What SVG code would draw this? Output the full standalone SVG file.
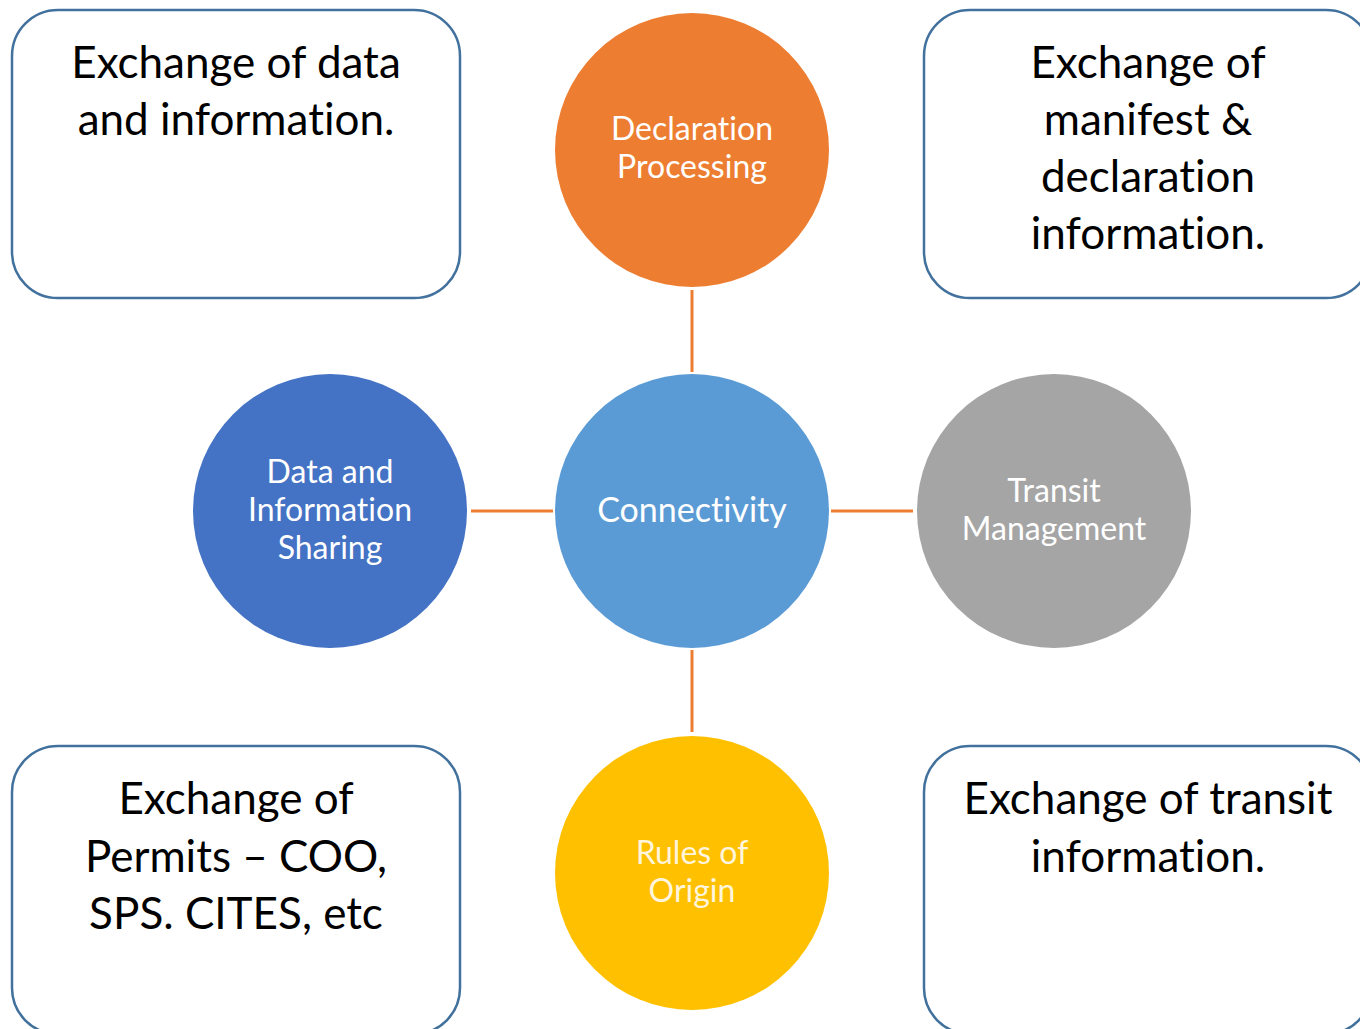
<svg xmlns="http://www.w3.org/2000/svg" width="1360" height="1029" viewBox="0 0 1360 1029">
<style>
.box{fill:#fff;stroke:#41719C;stroke-width:2.5}
text{font-variant-ligatures:none}
.bt{font-family:Lato,"Liberation Sans",sans-serif;font-size:44px;fill:#000;text-anchor:middle}
.ct{font-family:Lato,"Liberation Sans",sans-serif;font-size:32px;fill:#fff;text-anchor:middle}
.conn{stroke:#ED7D31;stroke-width:3;fill:none}
</style>
<rect width="1360" height="1029" fill="#fff"/>
<g id="connectors">
<line class="conn" x1="692" y1="290" x2="692" y2="372"/>
<line class="conn" x1="692" y1="650" x2="692" y2="732"/>
<line class="conn" x1="471" y1="511" x2="553" y2="511"/>
<line class="conn" x1="831" y1="511" x2="913" y2="511"/>
</g>
<g id="box-data">
<rect class="box" x="12" y="10" width="448" height="288" rx="46"/>
<text class="bt" x="236" y="78">Exchange of data</text>
<text class="bt" x="236" y="135">and information.</text>
</g>
<g id="box-manifest">
<rect class="box" x="924" y="10" width="448" height="288" rx="46"/>
<text class="bt" x="1148" y="78">Exchange of</text>
<text class="bt" x="1148" y="135">manifest &amp;</text>
<text class="bt" x="1148" y="192">declaration</text>
<text class="bt" x="1148" y="249">information.</text>
</g>
<g id="box-permits">
<rect class="box" x="12" y="746" width="448" height="288" rx="46"/>
<text class="bt" x="236" y="814">Exchange of</text>
<text class="bt" x="236" y="872">Permits – COO,</text>
<text class="bt" x="236" y="929">SPS. CITES, etc</text>
</g>
<g id="box-transit">
<rect class="box" x="924" y="746" width="448" height="288" rx="46"/>
<text class="bt" x="1148" y="814">Exchange of transit</text>
<text class="bt" x="1148" y="872">information.</text>
</g>
<g id="node-declaration">
<circle cx="692" cy="150" r="137" fill="#ED7D31"/>
<text class="ct" x="692" y="140">Declaration</text>
<text class="ct" x="692" y="178">Processing</text>
</g>
<g id="node-connectivity">
<circle cx="692" cy="511" r="137" fill="#5B9BD5"/>
<text class="ct" x="692" y="522" style="font-size:34px">Connectivity</text>
</g>
<g id="node-data">
<circle cx="330" cy="511" r="137" fill="#4472C4"/>
<text class="ct" x="330" y="483">Data and</text>
<text class="ct" x="330" y="521">Information</text>
<text class="ct" x="330" y="559">Sharing</text>
</g>
<g id="node-transit">
<circle cx="1054" cy="511" r="137" fill="#A5A5A5"/>
<text class="ct" x="1054" y="502">Transit</text>
<text class="ct" x="1054" y="540">Management</text>
</g>
<g id="node-rules">
<circle cx="692" cy="873" r="137" fill="#FFC000"/>
<text class="ct" x="692" y="864" style="fill:#FFF5DC">Rules of</text>
<text class="ct" x="692" y="902" style="fill:#FFF5DC">Origin</text>
</g>
</svg>
